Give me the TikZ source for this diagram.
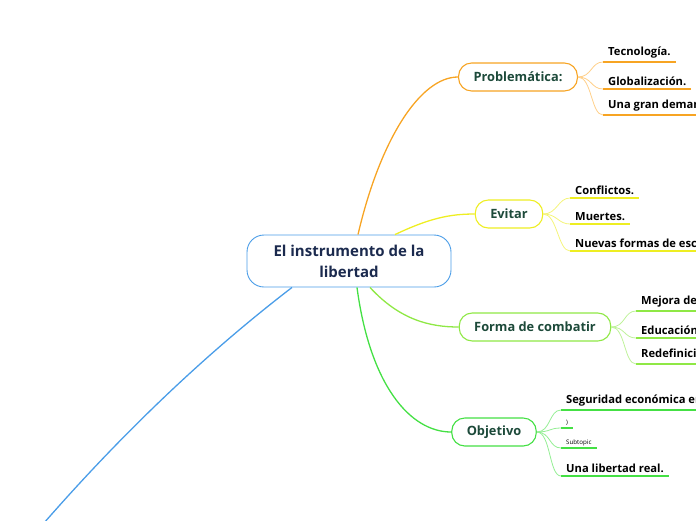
\documentclass[tikz,border=0pt]{standalone}
\usepackage{fontspec}
\setmainfont{Open Sans}
\definecolor{orangeA}{HTML}{F7A423}
\definecolor{orangeB}{HTML}{FFD08A}
\definecolor{yellowA}{HTML}{EEEE22}
\definecolor{yellowB}{HTML}{F4F47A}
\definecolor{limeA}{HTML}{8FE845}
\definecolor{limeB}{HTML}{BFF29A}
\definecolor{greenA}{HTML}{44E044}
\definecolor{greenB}{HTML}{95EE95}
\definecolor{blueA}{HTML}{4A9DE8}
\definecolor{topictext}{HTML}{1D4A3A}
\definecolor{centertext}{HTML}{1B2A4E}
\begin{document}
\begin{tikzpicture}[x=1pt, y=-1pt,
  every node/.style={font=\bfseries\fontsize{11.2}{13}\selectfont},
  topic/.style={draw, rounded corners=13pt, line width=1.1pt, fill=white,
    inner xsep=15pt, inner ysep=2pt, minimum height=28pt, text=topictext,
    font=\bfseries\fontsize{12.8}{15}\selectfont},
  subtopic/.style={anchor=south west, inner xsep=5pt, inner ysep=3.5pt},
  minisub/.style={anchor=south west, inner xsep=5pt, inner ysep=2pt,
    font=\fontsize{6.2}{7}\selectfont}]
  \useasboundingbox (0,0) rectangle (696,520);
  \clip (0,0) rectangle (696,520);

  % central topic
  \node[draw=blueA, line width=0.9pt, rounded corners=17pt, fill=white,
    align=center, text=centertext, minimum width=204pt, minimum height=52pt,
    font=\bfseries\fontsize{15}{21}\selectfont] (cen) at (349,261)
    {El instrumento de la\\libertad};

  % main topics
  \node[topic, draw=orangeA] (prob) at (518,77) {Problemática:};
  \node[topic, draw=yellowA] (evit) at (509,214) {Evitar};
  \node[topic, draw=limeA] (forma) at (535,327) {Forma de combatir};
  \node[topic, draw=greenA] (obj) at (494,432) {Objetivo};
  \coordinate (offpage) at (25,545);

  \draw[orangeA, line width=1.3pt] ([xshift=9pt]cen.north) .. controls (380,140) and (420,77) .. (prob.west);
  \draw[yellowA, line width=1.3pt] ([xshift=46pt]cen.north) .. controls (430,218) and (450,214) .. (evit.west);
  \draw[limeA, line width=1.3pt] ([xshift=21pt]cen.south) .. controls (400,320) and (430,327) .. (forma.west);
  \draw[greenA, line width=1.3pt] ([xshift=8pt]cen.south) .. controls (370,385) and (410,432) .. (obj.west);
  \draw[blueA, line width=1.3pt] ([xshift=-57pt]cen.south) .. controls (200,358) and (110,445) .. (offpage);

  % Problematica
  \node[subtopic] (tec) at (603,62) {Tecnología.};
  \node[subtopic] (glob) at (603,89) {Globalización.};
  \node[subtopic] (dem) at (603,115) {Una gran demanda de recursos.};
  \draw[orangeA, line width=1.6pt] (tec.south west) -- (tec.south east);
  \draw[orangeA, line width=1.6pt] (glob.south west) -- (glob.south east);
  \draw[orangeA, line width=1.6pt] (dem.south west) -- (dem.south east);
  \draw[orangeB, line width=0.8pt] (prob.east) .. controls +(14,0) and +(-12,0) .. (tec.south west);
  \draw[orangeB, line width=0.8pt] (prob.east) .. controls +(14,0) and +(-12,0) .. (glob.south west);
  \draw[orangeB, line width=0.8pt] (prob.east) .. controls +(14,0) and +(-12,0) .. (dem.south west);

  % Evitar
  \node[subtopic] (conf) at (570,198) {Conflictos.};
  \node[subtopic] (muer) at (570,224) {Muertes.};
  \node[subtopic] (escl) at (570,251) {Nuevas formas de esclavitud.};
  \draw[yellowA, line width=1.6pt] (conf.south west) -- (conf.south east);
  \draw[yellowA, line width=1.6pt] (muer.south west) -- (muer.south east);
  \draw[yellowA, line width=1.6pt] (escl.south west) -- (escl.south east);
  \draw[yellowB, line width=0.8pt] (evit.east) .. controls +(14,0) and +(-12,0) .. (conf.south west);
  \draw[yellowB, line width=0.8pt] (evit.east) .. controls +(14,0) and +(-12,0) .. (muer.south west);
  \draw[yellowB, line width=0.8pt] (evit.east) .. controls +(14,0) and +(-12,0) .. (escl.south west);

  % Forma de combatir
  \node[subtopic] (mej) at (636,311) {Mejora de la calidad de vida.};
  \node[subtopic] (edu) at (636,338) {Educación.};
  \node[subtopic] (redef) at (636,364) {Redefinición del trabajo.};
  \draw[limeA, line width=1.6pt] (mej.south west) -- (mej.south east);
  \draw[limeA, line width=1.6pt] (edu.south west) -- (edu.south east);
  \draw[limeA, line width=1.6pt] (redef.south west) -- (redef.south east);
  \draw[limeB, line width=0.8pt] (forma.east) .. controls +(14,0) and +(-12,0) .. (mej.south west);
  \draw[limeB, line width=0.8pt] (forma.east) .. controls +(14,0) and +(-12,0) .. (edu.south west);
  \draw[limeB, line width=0.8pt] (forma.east) .. controls +(14,0) and +(-12,0) .. (redef.south west);

  % Objetivo
  \node[subtopic] (seg) at (561,410) {Seguridad económica en el futuro.};
  \node[minisub] (par) at (561,428) {)};
  \node[minisub] (subt) at (561,448) {Subtopic};
  \node[subtopic] (lib) at (561,476) {Una libertad real.};
  \draw[greenA, line width=1.6pt] (seg.south west) -- (seg.south east);
  \draw[greenA, line width=1.6pt] (par.south west) -- (par.south east);
  \draw[greenA, line width=1.6pt] (subt.south west) -- (subt.south east);
  \draw[greenA, line width=1.6pt] (lib.south west) -- (lib.south east);
  \draw[greenB, line width=0.8pt] (obj.east) .. controls +(14,0) and +(-12,0) .. (seg.south west);
  \draw[greenB, line width=0.8pt] (obj.east) .. controls +(14,0) and +(-12,0) .. (par.south west);
  \draw[greenB, line width=0.8pt] (obj.east) .. controls +(14,0) and +(-12,0) .. (subt.south west);
  \draw[greenB, line width=0.8pt] (obj.east) .. controls +(14,0) and +(-12,0) .. (lib.south west);
\end{tikzpicture}
\end{document}
